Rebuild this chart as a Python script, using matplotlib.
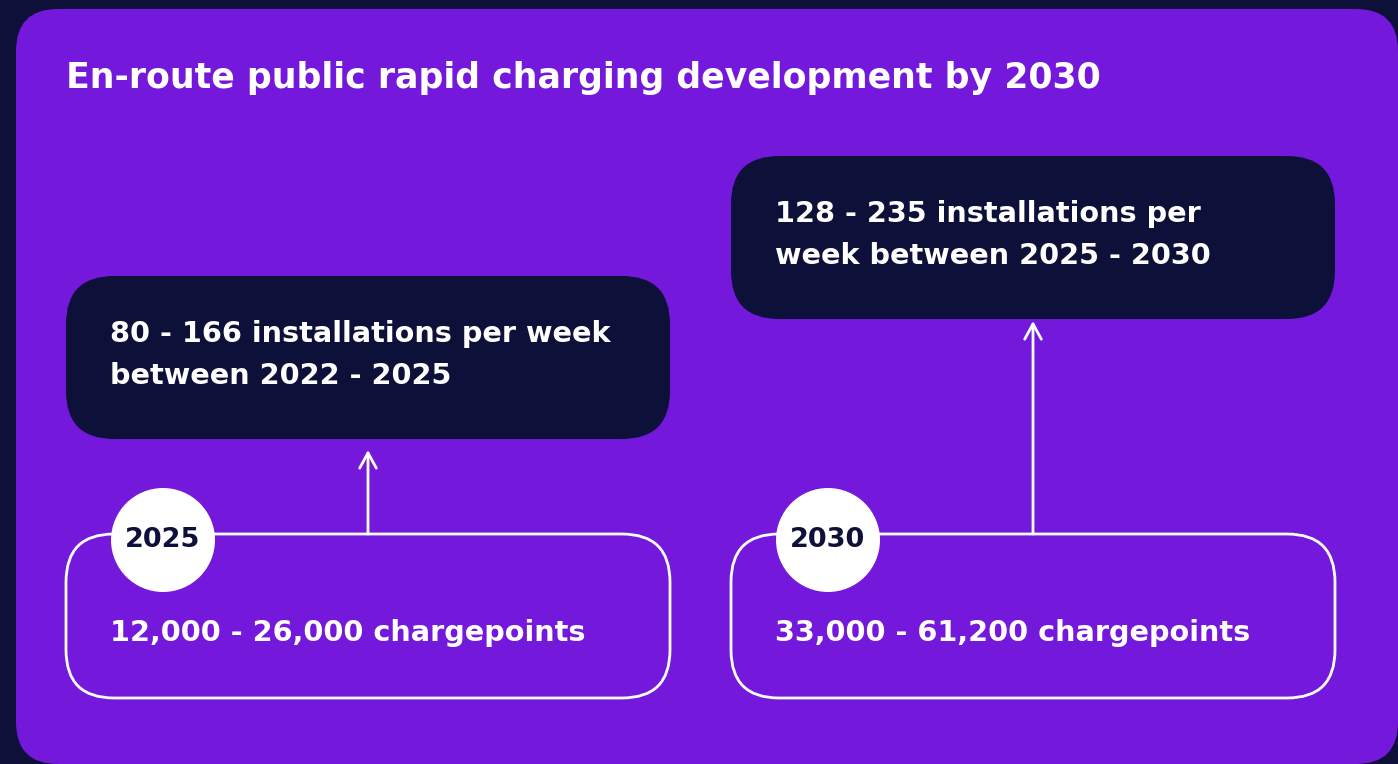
import matplotlib.pyplot as plt
from matplotlib.patches import FancyBboxPatch, Circle

NAVY = '#0d1039'
PURPLE = '#7418dc'
WHITE = '#ffffff'

title = "En-route public rapid charging development by 2030"
years = ["2025", "2030"]
rates = ["80 - 166 installations per week\nbetween 2022 - 2025",
         "128 - 235 installations per\nweek between 2025 - 2030"]
totals = ["12,000 - 26,000 chargepoints", "33,000 - 61,200 chargepoints"]

FONT = 'DejaVu Sans'

fig = plt.figure(figsize=(13.98, 7.64), dpi=100, facecolor=NAVY)
ax = fig.add_axes([0, 0, 1, 1])
ax.set_xlim(0, 1398)
ax.set_ylim(764, 0)
ax.axis('off')

# purple panel
ax.add_patch(FancyBboxPatch((16, 9), 1382, 755, boxstyle="round,pad=0,rounding_size=42",
                            fc=PURPLE, ec='none', zorder=1))

ax.text(66, 78, title, color=WHITE, fontsize=25, fontweight='bold', family=FONT,
        va='center', ha='left', zorder=5)

col_x = [66, 731]
rate_y = [276, 156]
tip_y = [450, 321]
box_w = 604

for i in range(2):
    x0 = col_x[i]
    # dark rate box
    ry = rate_y[i]
    ax.add_patch(FancyBboxPatch((x0, ry), box_w, 163, boxstyle="round,pad=0,rounding_size=48",
                                fc=NAVY, ec='none', zorder=2))
    ax.text(x0 + 44, ry + 79, rates[i], color=WHITE, fontsize=20.7, fontweight='bold',
            family=FONT, va='center', ha='left', linespacing=1.65, zorder=5)
    # arrow
    ax.annotate('', xy=(x0 + 302, tip_y[i]), xytext=(x0 + 302, 534),
                arrowprops=dict(arrowstyle='->,head_length=1.1,head_width=0.6',
                                color=WHITE, lw=2, shrinkA=0, shrinkB=0), zorder=3)
    # outline total box
    ax.add_patch(FancyBboxPatch((x0, 534), box_w, 164, boxstyle="round,pad=0,rounding_size=48",
                                fc='none', ec=WHITE, lw=2, zorder=2))
    ax.add_patch(Circle((x0 + 97, 540), 52, fc=WHITE, ec='none', zorder=4))
    ax.text(x0 + 97, 540, years[i], color=NAVY, fontsize=19.5, fontweight='bold',
            family=FONT, va='center', ha='center', zorder=5)
    ax.text(x0 + 44, 633, totals[i], color=WHITE, fontsize=20.7, fontweight='bold',
            family=FONT, va='center', ha='left', zorder=5)

fig.savefig('out.png', dpi=100, facecolor=NAVY)
